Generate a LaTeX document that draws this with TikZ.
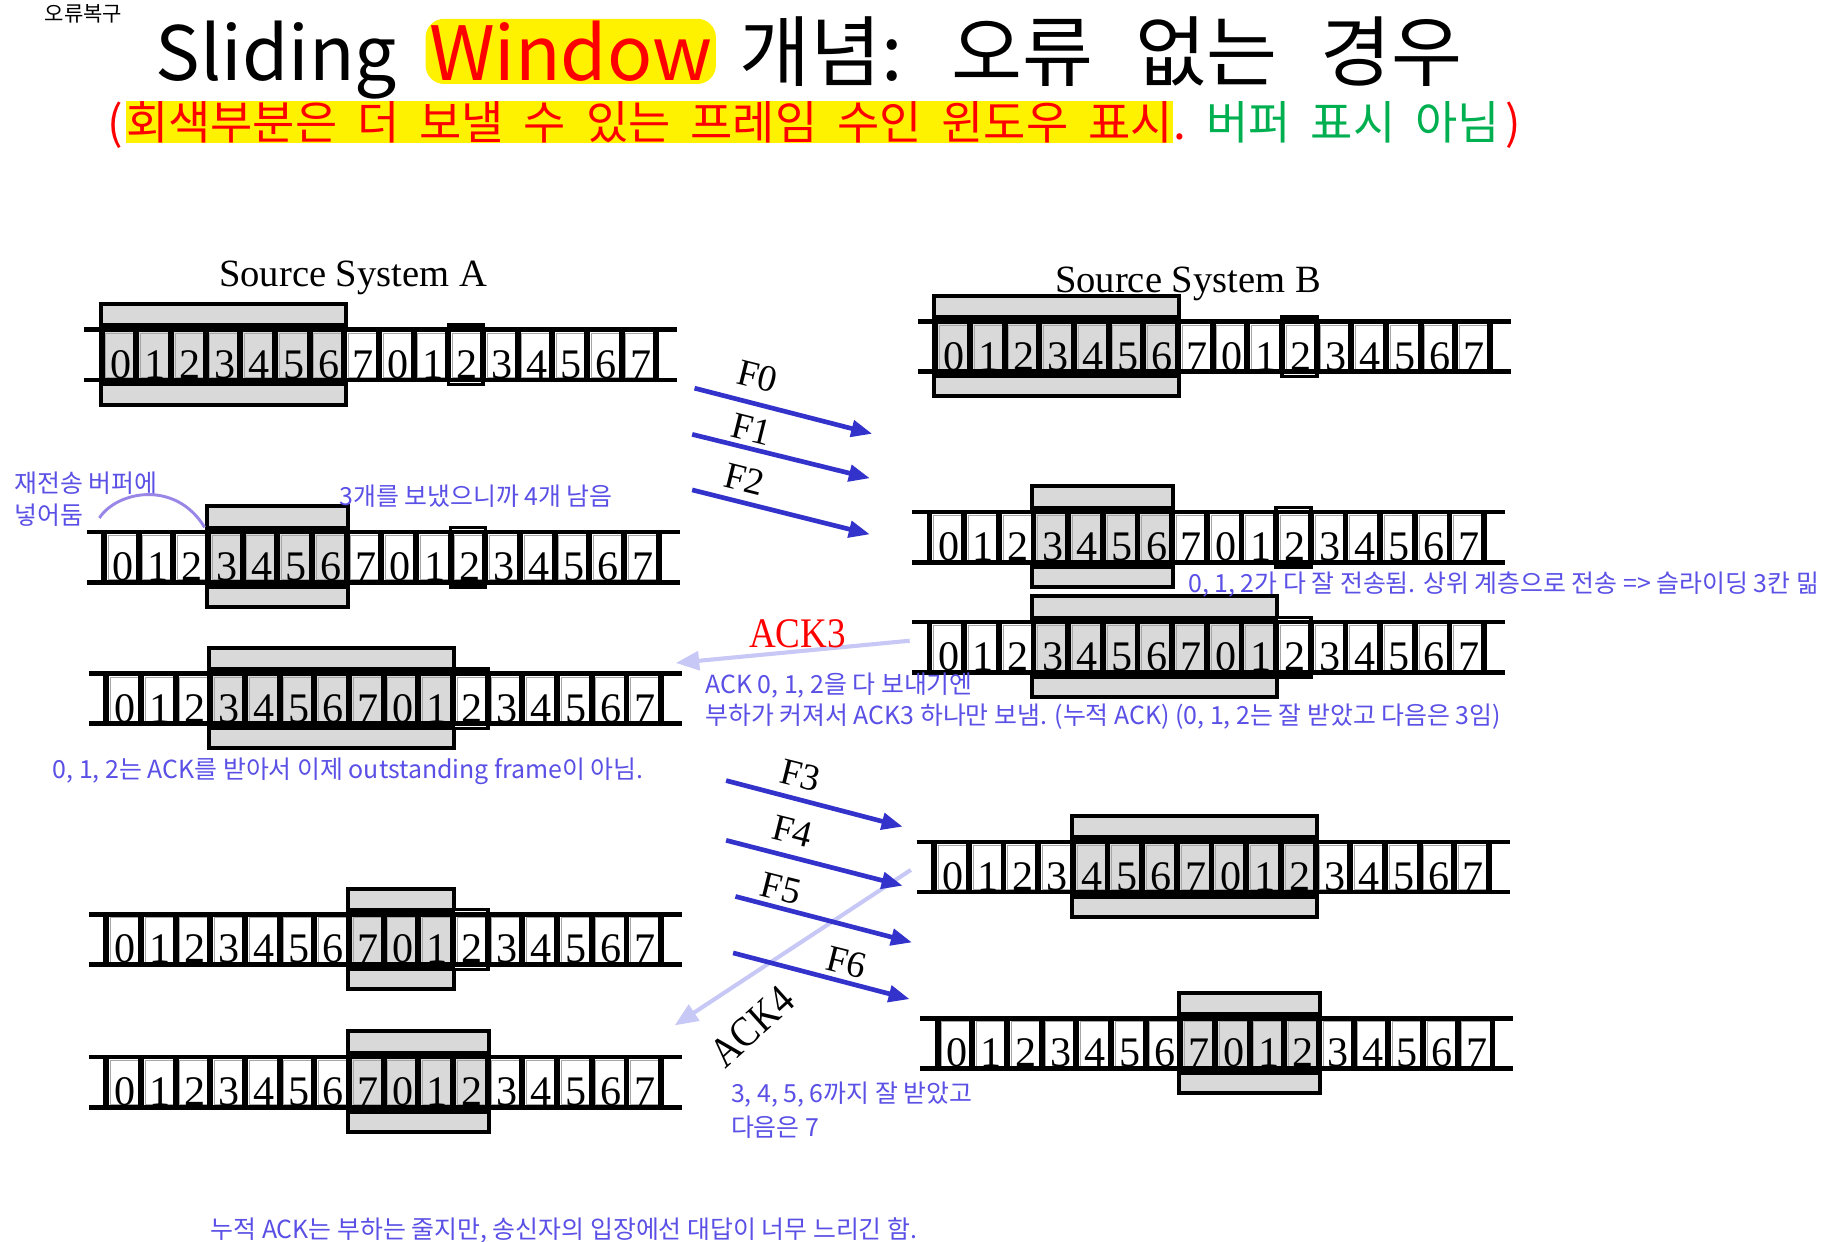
\documentclass[tikz,border=0pt]{standalone}
\usepackage{fontspec}
\setmainfont{Liberation Serif}
\newfontfamily\kofont{Noto Sans CJK KR}
\newfontfamily\tmsq[FakeStretch=0.88]{Liberation Serif}
\usetikzlibrary{arrows.meta}
\definecolor{arrblue}{HTML}{3333CC}
\definecolor{ackcol}{HTML}{C8C8F6}
\definecolor{notecol}{HTML}{5A50E6}
\definecolor{curvecol}{HTML}{9A86E6}
\definecolor{wingray}{HTML}{D9D9D9}
\definecolor{hlyellow}{HTML}{FFF200}
\definecolor{okgreen}{HTML}{00B050}
\newcommand{\cellw}{29.65}
\newcommand{\striph}{43}
\newcommand{\ttlspace}{\spaceskip=0.45em\relax}
\newcommand{\ttlspaceb}{\spaceskip=0.55em\relax}
\newcommand{\subspace}{\spaceskip=17pt\relax}
% #1 name, #2 x of cell 0, #3 y of top line, #4 first window cell, #5 last window cell
\newcommand{\slidrow}[5]{%
\begin{scope}[shift={(#2,#3)}]
  \draw[line width=3.5pt, fill=wingray] ({#4*\cellw-1},-22) rectangle ({(#5+1)*\cellw+1},\striph+21);
  \foreach \i in {0,...,15}{%
    \pgfmathtruncatemacro\inw{and(\i>#4-0.5,\i<#5+0.5)}%
    \ifnum\inw=1\relax
      \fill[wingray] ({\i*\cellw},0) rectangle ({(\i+1)*\cellw},\striph);
    \else
      \fill[white] ({\i*\cellw},0) rectangle ({(\i+1)*\cellw},\striph);
    \fi
    \draw[gray!70, line width=0.8pt] ({\i*\cellw+3.5},3) rectangle ({(\i+1)*\cellw-1},\striph-2);
  }
  \ifnum#5<10\relax
    \draw[line width=3pt, fill=white] ({10*\cellw},-4) rectangle ({11*\cellw},\striph+4);
    \draw[gray!70, line width=0.8pt] ({10*\cellw+3.5},3) rectangle ({11*\cellw-1},\striph-2);
  \fi
  \draw[line width=5pt] ({#4*\cellw},-3) -- ({(#5+1)*\cellw},-3);
  \draw[line width=5pt] ({#4*\cellw},\striph+3) -- ({(#5+1)*\cellw},\striph+3);
  \draw[line width=4pt] (-15,0) -- ({16*\cellw+18},0);
  \draw[line width=4pt] (-15,\striph) -- ({16*\cellw+18},\striph);
  \foreach \i in {0,...,16} \draw[line width=5pt] ({\i*\cellw},0) -- ({\i*\cellw},\striph);
  \foreach \i in {0,...,15}{%
    \pgfmathtruncatemacro\dg{mod(\i,8)}%
    \node[celldigit] (#1-\i) at ({(\i+0.5)*\cellw+1.5},\striph-1.5) {\dg};
  }
\end{scope}}
\begin{document}
\begin{tikzpicture}[x=1pt,y=-1pt,
  celldigit/.style={font=\fontsize{36}{36}\selectfont, anchor=base, inner sep=0pt},
  note/.style={font=\kofont\fontsize{21.3}{25}\selectfont, text=notecol, anchor=west, inner sep=0pt},
  frarrow/.style={arrblue, line width=4pt, -{Triangle[length=18pt,width=14pt]}},
  ackarrow/.style={ackcol, line width=3.5pt, -{Triangle[length=20pt,width=16pt]}},
  frlabel/.style={font=\fontsize{32}{32}\selectfont, rotate=-14, inner sep=0pt},
  acklabel/.style={font=\tmsq\fontsize{36}{36}\selectfont, inner sep=0pt},
  srclabel/.style={font=\fontsize{33}{33}\selectfont, anchor=base, inner sep=0pt},
  ttl/.style={font=\kofont\fontsize{64}{70}\selectfont\ttlspace, anchor=base west, inner sep=0pt},
  ttlb/.style={font=\kofont\fontsize{66}{70}\selectfont\ttlspaceb, anchor=base west, inner sep=0pt},
  sub/.style={font=\kofont\fontsize{39.3}{42}\selectfont\subspace, anchor=base west, inner sep=0pt}]
\useasboundingbox (0,0) rectangle (1560,1061.4);
\fill[white] (0,0) rectangle (1560,1061.4);

% titles
\node[font=\kofont\fontsize{18}{20}\selectfont, anchor=west, inner sep=0pt] (top) at (38,12) {오류복구};
\node[ttl] (t1) at (133,69) {Sliding};
\node[ttl, inner xsep=3pt, inner ysep=2pt, fill=hlyellow, rounded corners=16pt, text=red] (t2) at ([xshift=24pt]t1.base east) {Window};
\node[ttlb] (t3) at ([xshift=20pt]t2.base east) {개념: 오류 없는 경우};

\node[sub, text=red] (s1) at (92,119) {(};
\node[sub, text=red, fill=hlyellow] (s2) at ([xshift=2pt]s1.base east) {회색부분은 더 보낼 수 있는 프레임 수인 윈도우 표시};
\node[sub, text=red] (s3) at (s2.base east) {.};
\node[sub, text=okgreen] (s4) at ([xshift=17pt]s3.base east) {버퍼 표시 아님};
\node[sub, text=red] (s5) at ([xshift=4pt]s4.base east) {)};

\node[srclabel] (srcA) at (302,245) {Source System A};
\node[srclabel] (srcB) at (1016,250) {Source System B};

% sliding window rows
\slidrow{A1}{87}{282}{0}{6}
\slidrow{B1}{800}{275}{0}{6}
\slidrow{A2}{89}{455}{3}{6}
\slidrow{B2}{795}{438}{3}{6}
\slidrow{B3}{795}{532}{3}{9}
\slidrow{A3}{91}{576}{3}{9}
\slidrow{B4}{799}{720}{4}{10}
\slidrow{A4}{91}{782}{7}{9}
\slidrow{B5}{802}{871}{7}{10}
\slidrow{A5}{91}{904}{7}{10}

% ack arrows
\coordinate (a3s) at (778,548);
\coordinate (a3e) at (578,567);
\coordinate (a4s) at (779,744);
\coordinate (a4e) at (577,877);
\draw[ackarrow] (a3s) -- (a3e);
\draw[ackarrow] (a4s) -- (a4e);

% frame arrows
\coordinate (f0s) at (594,332); \coordinate (f0e) at (746,371);
\coordinate (f1s) at (592,371.5); \coordinate (f1e) at (744,409);
\coordinate (f2s) at (592,419); \coordinate (f2e) at (744,457);
\coordinate (f3s) at (621,667.6); \coordinate (f3e) at (772,707);
\coordinate (f4s) at (621,718.7); \coordinate (f4e) at (772,757.5);
\coordinate (f5s) at (629,766.7); \coordinate (f5e) at (780,806);
\coordinate (f6s) at (627,815); \coordinate (f6e) at (778,854.5);
\foreach \k in {0,...,6} \draw[frarrow] (f\k s) -- (f\k e);

\node[frlabel] (F0) at (648,322) {F0};
\node[frlabel] (F1) at (643,367) {F1};
\node[frlabel] (F2) at (637,410) {F2};
\node[frlabel] (F3) at (685,663) {F3};
\node[frlabel] (F4) at (678,711) {F4};
\node[frlabel] (F5) at (668,760) {F5};
\node[frlabel] (F6) at (724,823) {F6};

\node[acklabel, text=red] (ack3l) at (682,542) {ACK3};
\node[acklabel, rotate=42] (ack4l) at (643,878) {ACK4};

% notes
\node[note] (n1) at (12,413) {재전송 버퍼에};
\node[note] (n2) at (12,441) {넣어둠};
\coordinate (c1) at (85,443);
\coordinate (c2) at (175,451);
\draw[curvecol, line width=2.5pt] (c1) .. controls (100,420) and (150,410) .. (c2);
\node[note] (n3) at (290,424) {3개를 보냈으니까 4개 남음};
\node[note] (n4) at (1016,500) {0, 1, 2가 다 잘 전송됨. 상위 계층으로 전송 => 슬라이딩 3칸 밂};
\node[note] (n5) at (603,586) {ACK 0, 1, 2을 다 보내기엔};
\node[note] (n6) at (603,613) {부하가 커져서 ACK3 하나만 보냄. (누적 ACK) (0, 1, 2는 잘 받았고 다음은 3임)};
\node[note] (n7) at (45,660) {0, 1, 2는 ACK를 받아서 이제 outstanding frame이 아님.};
\node[note] (n8) at (625,936) {3, 4, 5, 6까지 잘 받았고};
\node[note] (n9) at (625,964) {다음은 7};
\node[note] (n10) at (180,1052) {누적 ACK는 부하는 줄지만, 송신자의 입장에선 대답이 너무 느리긴 함.};
\end{tikzpicture}
\end{document}
